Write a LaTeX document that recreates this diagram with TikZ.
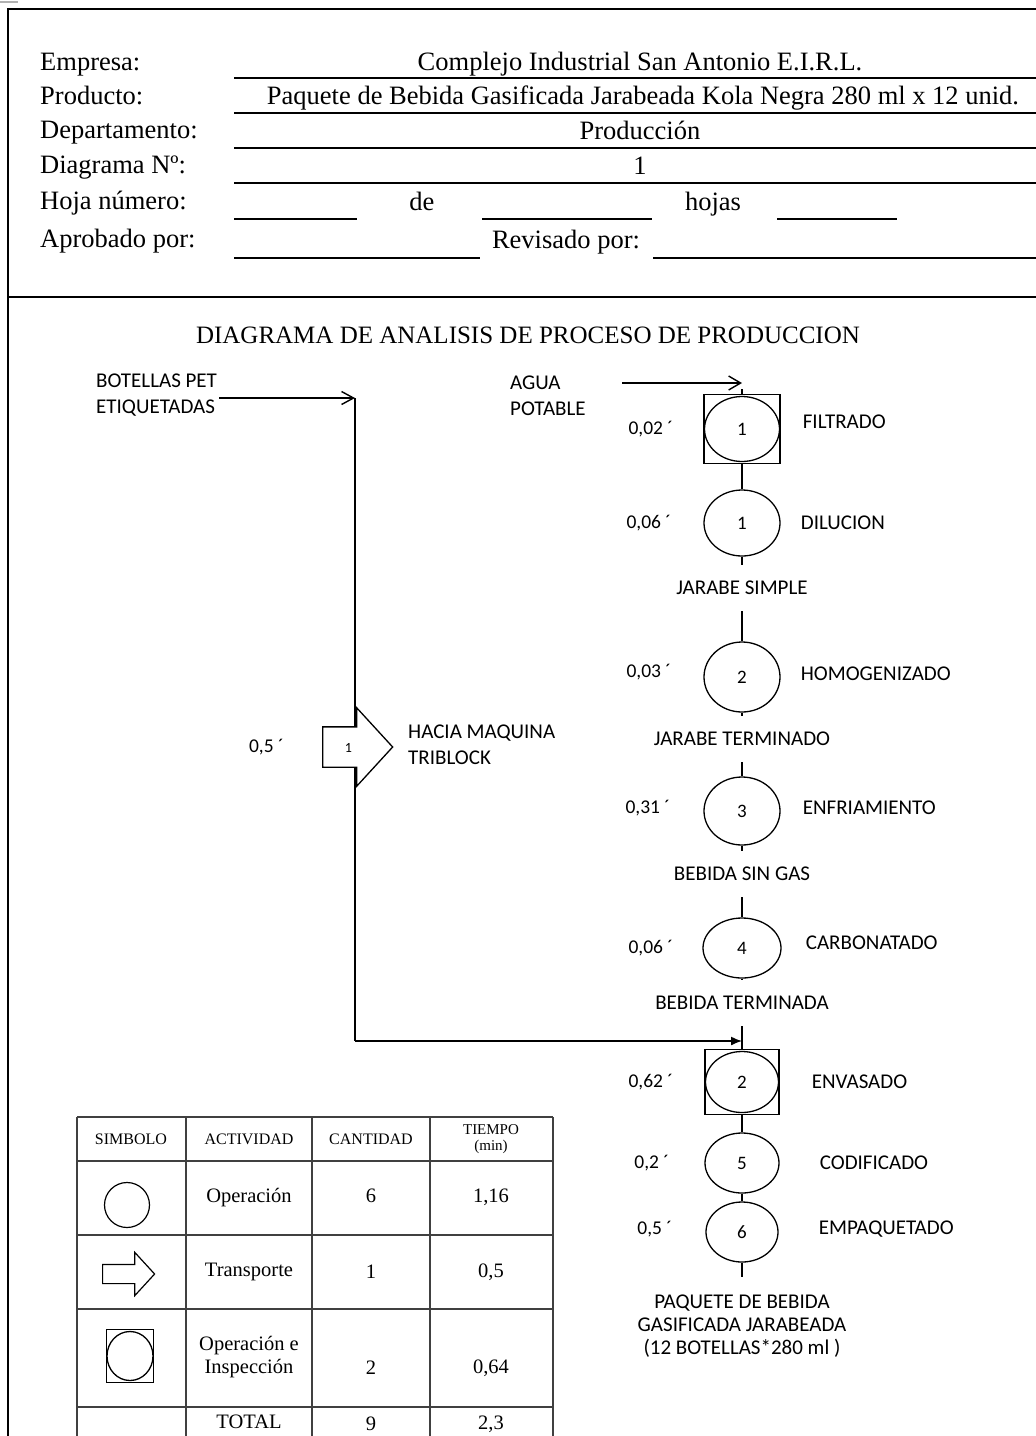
\documentclass[tikz,border=0pt]{standalone}
\usepackage{fontspec}
\setmainfont{Liberation Serif}
\newfontfamily\calibri{Carlito}
\usetikzlibrary{arrows.meta, positioning, shapes.geometric, shapes.arrows}

\tikzset{
  hdr/.style={font=\fontsize{26.5}{30}\selectfont, inner sep=0pt},
  rule/.style={line width=1.6pt},
  flow/.style={line width=1.4pt},
  lbl/.style={font=\calibri\fontsize{21}{26}\selectfont, inner sep=2pt},
  tm/.style={font=\calibri\fontsize{19.5}{24}\selectfont, inner sep=2pt},
  flowlbl/.style={lbl, minimum height=46pt},
  op/.style={draw, ellipse, line width=1.3pt, inner sep=0pt,
    minimum width=76pt, minimum height=66pt,
    font=\calibri\fontsize{19}{22}\selectfont},
  opinsp/.style 2 args={draw, rectangle, line width=1.3pt, inner sep=0pt,
    minimum width=#1, minimum height=#2,
    font=\calibri\fontsize{19}{22}\selectfont,
    path picture={\draw[line width=1.3pt] (path picture bounding box.center)
      ellipse ({#1/2-0.5pt} and {#2/2-2pt});}},
  transp/.style={draw, fill=white, single arrow, line width=1.3pt,
    single arrow tip angle=95, inner xsep=2pt,
    font=\calibri\fontsize{14}{16}\selectfont},
  tbl/.style={line width=1.5pt, black!75},
  tcell/.style={font=\fontsize{20.5}{23}\selectfont, align=center},
  thead/.style={font=\fontsize{16}{18}\selectfont, align=center}
}

\begin{document}
\begin{tikzpicture}[x=1pt, y=-1pt]
  \useasboundingbox (0,0) rectangle (1036,1436);

  % Sheet
  \draw[gray!60, line width=1.5pt] (0,2) -- (18,2);
  \draw[rule] (8,1436) -- (8,9) -- (1036,9);
  \draw[rule] (8,297) -- (1036,297);

  % Header
  \node[hdr, anchor=base west] (empresa) at (40,70) {Empresa:};
  \node[hdr, anchor=base west] (producto) at (40,104) {Producto:};
  \node[hdr, anchor=base west] (depto) at (40,138) {Departamento:};
  \node[hdr, anchor=base west] (diagnum) at (40,173) {Diagrama Nº:};
  \node[hdr, anchor=base west] (hoja) at (40,209) {Hoja número:};
  \node[hdr, anchor=base west] (aprobado) at (40,247) {Aprobado por:};

  \node[hdr, anchor=base] (empresaval) at (640,70) {Complejo Industrial San Antonio E.I.R.L.};
  \node[hdr, anchor=base] (productoval) at (643,104) {Paquete de Bebida Gasificada Jarabeada Kola Negra 280 ml x 12 unid.};
  \node[hdr, anchor=base] (deptoval) at (640,139) {Producción};
  \node[hdr, anchor=base] (diagnumval) at (640,174) {1};
  \foreach \y in {78,113,148,183}
    \draw[rule] (234,\y) -- (1036,\y);

  \node[hdr, anchor=base] (de) at (422,210) {de};
  \node[hdr, anchor=base] (hojas) at (713,210) {hojas};
  \draw[rule] (234,219) -- (357,219);
  \draw[rule] (482,219) -- (652,219);
  \draw[rule] (777,219) -- (897,219);

  \node[hdr, anchor=base] (revisado) at (566,248) {Revisado por:};
  \draw[rule] (234,258) -- (480,258);
  \draw[rule] (653,258) -- (1036,258);

  % Title
  \node[font=\fontsize{25}{28}\selectfont, anchor=base, inner sep=0pt] (titulo) at (528,343)
    {DIAGRAMA DE ANALISIS DE PROCESO DE PRODUCCION};

  % Main column
  \node[opinsp={76pt}{69pt}] (filtrado) at (742,429) {1};
  \node[op] (dilucion) at (742,523) {1};
  \node[flowlbl] (jsimple) at (742,588) {JARABE SIMPLE};
  \node[op, minimum height=70pt] (homog) at (742,677) {2};
  \node[flowlbl] (jterm) at (742,739) {JARABE TERMINADO};
  \node[op, minimum height=68pt] (enfria) at (742,811) {3};
  \node[flowlbl] (bsingas) at (742,874) {BEBIDA SIN GAS};
  \node[op, minimum width=78pt, minimum height=60pt] (carbon) at (742,948) {4};
  \node[flowlbl] (bterm) at (742,1003) {BEBIDA TERMINADA};
  \node[opinsp={74pt}{65pt}] (envasado) at (742,1082) {2};
  \node[op, minimum width=74pt, minimum height=60pt] (codif) at (742,1163) {5};
  \node[op, minimum width=72pt, minimum height=60pt] (empaq) at (742,1232) {6};
  \node[lbl, font=\calibri\fontsize{21}{23}\selectfont, align=center, inner ysep=18pt,
        anchor=north] (paquete) at (742,1277)
    {PAQUETE DE BEBIDA\\GASIFICADA JARABEADA\\(12 BOTELLAS*280 ml )};

  \draw[flow] (filtrado) -- (dilucion);
  \draw[flow] (dilucion) -- (jsimple);
  \draw[flow] (jsimple) -- (homog);
  \draw[flow] (homog) -- (jterm);
  \draw[flow] (jterm) -- (enfria);
  \draw[flow] (enfria) -- (bsingas);
  \draw[flow] (bsingas) -- (carbon);
  \draw[flow] (carbon) -- (bterm);
  \draw[flow] (bterm) -- (envasado);
  \draw[flow] (envasado) -- (codif);
  \draw[flow] (codif) -- (empaq);
  \draw[flow] (empaq) -- (paquete);

  % Times
  \node[tm, left=28pt of filtrado] (t1) {0,02 ´};
  \node[tm, left=30pt of dilucion] (t2) {0,06 ´};
  \node[tm, left=30pt of homog, yshift=5pt] (t3) {0,03 ´};
  \node[tm, left=31pt of enfria, yshift=3pt] (t4) {0,31 ´};
  \node[tm, left=27pt of carbon] (t5) {0,06 ´};
  \node[tm, left=29pt of envasado] (t6) {0,62 ´};
  \node[tm, left=33pt of codif] (t7) {0,2 ´};
  \node[tm, left=31pt of empaq, yshift=3pt] (t8) {0,5 ´};

  % Activities
  \node[lbl, right=20pt of filtrado, yshift=7pt] (a1) {FILTRADO};
  \node[lbl, right=18pt of dilucion] (a2) {DILUCION};
  \node[lbl, right=18pt of homog, yshift=3pt] (a3) {HOMOGENIZADO};
  \node[lbl, right=20pt of enfria, yshift=3pt] (a4) {ENFRIAMIENTO};
  \node[lbl, right=22pt of carbon, yshift=5pt] (a5) {CARBONATADO};
  \node[lbl, right=30pt of envasado] (a6) {ENVASADO};
  \node[lbl, right=38pt of codif] (a7) {CODIFICADO};
  \node[lbl, right=38pt of empaq, yshift=3pt] (a8) {EMPAQUETADO};

  % Water in
  \node[lbl, align=left, anchor=west] (agua) at (508,396) {AGUA\\POTABLE};
  \coordinate (aguastart) at (622,383);
  \coordinate (aguaend) at (742,383);
  \draw[flow, -{Straight Barb[length=12pt, width=14pt]}] (aguastart) -- (aguaend);
  \draw[flow] (aguaend) ++(0,6) -- (filtrado);

  % Bottles in
  \node[lbl, align=left, anchor=west] (botellas) at (94,395) {BOTELLAS PET\\ETIQUETADAS};
  \coordinate (botcorner) at (355,398);
  \coordinate (botbottom) at (355,1041);
  \draw[flow, -{Straight Barb[length=12pt, width=13pt]}] (botellas.east |- botcorner) -- (botcorner);
  \draw[flow] (botcorner) -- (botbottom);
  \draw[flow, -{Latex[length=11pt, width=9pt]}] (botbottom) -- (botbottom -| envasado.north);

  % Transport
  \node[transp, minimum height=70pt, text height=10pt, text depth=0pt, inner ysep=14.5pt,
        single arrow head extend=19pt, anchor=tail] (tr1) at (322,747) {1};
  \node[tm, left=36pt of tr1.tail] (t9) {0,5 ´};
  \node[lbl, align=left, anchor=west] (hacia) at (406,745) {HACIA MAQUINA\\TRIBLOCK};

  % Summary table
  \foreach \x in {77,186,312,430,553}
    \draw[tbl] (\x,1117) -- (\x,1436);
  \foreach \y in {1117,1161,1235,1309,1407}
    \draw[tbl] (77,\y) -- (553,\y);

  \node[thead] (hsim) at (131,1139) {SIMBOLO};
  \node[thead] (hact) at (249,1139) {ACTIVIDAD};
  \node[thead] (hcant) at (371,1139) {CANTIDAD};
  \node[thead, font=\fontsize{15}{16}\selectfont] (htiem) at (491,1139) {TIEMPO\\(min)};

  \node[draw, circle, line width=1.2pt, minimum size=45pt] (symop) at (127,1205) {};
  \node[tcell] (actop) at (249,1198) {Operación};
  \node[tcell] (cantop) at (371,1196) {6};
  \node[tcell] (tiemop) at (491,1197) {1,16};

  \node[transp, line width=1.2pt, minimum height=52pt, text height=0pt, text depth=0pt,
        inner ysep=9pt, single arrow head extend=12pt, anchor=tail] (symtr) at (102,1274) {};
  \node[tcell] (acttr) at (249,1272) {Transporte};
  \node[tcell] (canttr) at (371,1272) {1};
  \node[tcell] (tiemtr) at (491,1272) {0,5};

  \node[opinsp={47pt}{53pt}, line width=1.2pt] (symoi) at (130,1356) {};
  \node[tcell] (actoi) at (249,1357) {Operación e\\Inspección};
  \node[tcell] (cantoi) at (371,1368) {2};
  \node[tcell] (tiemoi) at (491,1368) {0,64};

  \node[tcell] (acttot) at (249,1422) {TOTAL};
  \node[tcell] (canttot) at (371,1424) {9};
  \node[tcell] (tiemtot) at (491,1424) {2,3};
\end{tikzpicture}
\end{document}
